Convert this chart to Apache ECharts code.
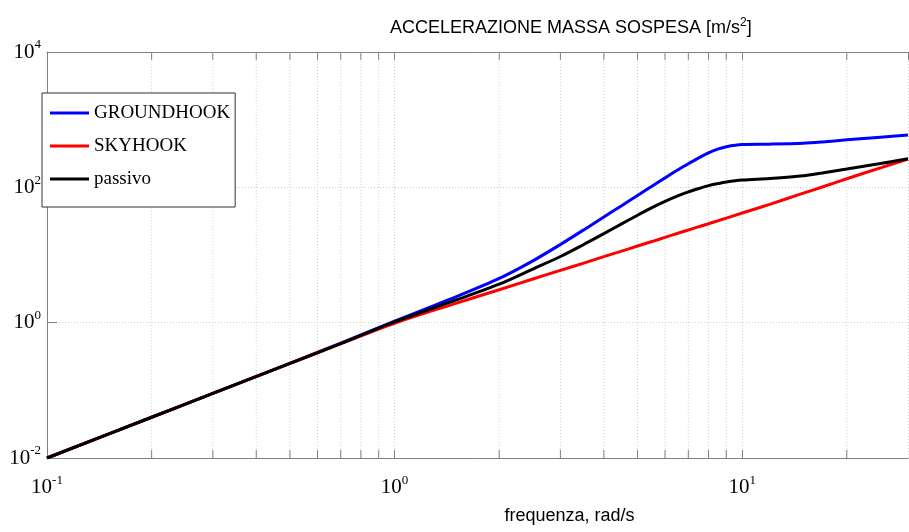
<!DOCTYPE html>
<html>
<head>
<meta charset="utf-8">
<script src="https://cdn.jsdelivr.net/npm/echarts@6/dist/echarts.min.js"></script>
<style>
  html, body { margin: 0; padding: 0; background: #fff; }
  #chart { width: 909px; height: 532px; }
</style>
</head>
<body>
<div id="chart"></div>
<script>
// ---- data ----
const freq = [0.1, 0.2, 0.3, 0.5, 0.7, 1, 1.5, 2, 2.5, 3, 3.5, 4, 4.5, 5, 5.5, 6, 6.5, 7, 7.5, 8, 8.5, 9, 10, 12, 15, 17, 20, 25, 30];
const groundhook = [0.01, 0.04, 0.09, 0.25, 0.5, 1.05, 2.4, 4.5, 8.2, 14.3, 23.5, 36.4, 53.6, 76, 104, 138, 179, 223, 273, 323, 366, 399, 430, 435, 448, 468, 503, 550, 592];
const skyhook = [0.01, 0.04, 0.09, 0.25, 0.49, 0.98, 1.93, 3.07, 4.42, 5.93, 7.6, 9.45, 11.4, 13.6, 15.8, 18.2, 20.8, 23.4, 26.2, 29, 32, 35.1, 41.7, 56, 82, 101, 134, 194, 262];
const passivo = [0.01, 0.04, 0.09, 0.25, 0.49, 1.03, 2.15, 3.7, 6.2, 9.5, 14.3, 20.7, 28.8, 38.7, 50, 62, 74, 85.5, 96, 106, 113.5, 120, 128, 135, 148, 163, 186, 225, 265];
const seriesNames = ['GROUNDHOOK', 'SKYHOOK', 'passivo'];
const xMinorTicks = [0.2, 0.3, 0.4, 0.5, 0.6, 0.7, 0.8, 0.9, 2, 3, 4, 5, 6, 7, 8, 9, 20];
const xMin = 0.1, xMax = 30, yMin = 0.01, yMax = 10000;
const titleText = 'ACCELERAZIONE MASSA SOSPESA [m/s{s|2}]';
const xName = 'frequenza, rad/s';

const pair = (ys) => freq.map((f, i) => [f, ys[i]]);
const expLabel = (v) => {
  const e = Math.log10(v);
  const r = Math.round(e);
  if (Math.abs(e - r) > 1e-6) return '';
  return '{b|10}{e|' + r + '}';
};
const sans = "'Liberation Sans', Arial, sans-serif";
const serif = "'Liberation Serif', 'Times New Roman', serif";
const tickRich = {
  b: { fontFamily: serif, fontSize: 21, color: '#000' },
  e: { fontFamily: serif, fontSize: 13, color: '#000', padding: [0, 0, 14, 0] }
};
const gray = '#808080';

const chart = echarts.init(document.getElementById('chart'), null, { renderer: 'canvas' });
chart.setOption({
  animation: false,
  backgroundColor: '#fff',
  title: {
    text: titleText,
    left: 385, top: 12,
    textStyle: {
      fontFamily: sans, fontSize: 18, fontWeight: 'normal', color: '#000',
      rich: { s: { fontFamily: sans, fontSize: 12, color: '#000', padding: [0, 0, 11, 0] } }
    }
  },
  legend: {
    data: seriesNames,
    orient: 'vertical',
    left: 42, top: 93,
    icon: 'rect', itemWidth: 39, itemHeight: 3, itemGap: 13,
    padding: [10, 5, 18, 8],
    borderColor: '#333', borderWidth: 1, borderRadius: 0,
    backgroundColor: '#fff',
    textStyle: { fontFamily: serif, fontSize: 19, lineHeight: 20, color: '#000' },
    selectedMode: false
  },
  grid: { left: 47, right: 1, top: 52, bottom: 74, containLabel: false },
  xAxis: [{
    type: 'log', logBase: 10, min: xMin, max: xMax,
    name: xName, nameLocation: 'middle', nameGap: 49,
    nameTextStyle: { fontFamily: sans, fontSize: 18, color: '#000', padding: [0, 0, 0, 184] },
    axisLine: { lineStyle: { color: gray, width: 1 } },
    axisTick: { inside: true, length: 8, lineStyle: { color: gray } },
    axisLabel: { formatter: expLabel, margin: 16, rich: tickRich, showMaxLabel: false },
    splitLine: { show: true, lineStyle: { color: '#cfcfcf', type: [1, 2], width: 1 } },
    minorTick: { show: false }
  }, {
    type: 'log', logBase: 10, min: xMin, max: xMax, position: 'top',
    axisLine: { show: true, lineStyle: { color: gray, width: 1 } },
    axisTick: { inside: true, length: 8, lineStyle: { color: gray } },
    axisLabel: { show: false },
    splitLine: { show: false }
  }],
  yAxis: {
    type: 'log', logBase: 10, min: yMin, max: yMax, interval: 2,
    axisLine: { show: true, lineStyle: { color: gray, width: 1 } },
    axisTick: { show: true, inside: true, length: 10, lineStyle: { color: gray } },
    axisLabel: { formatter: expLabel, margin: 6, rich: tickRich },
    splitLine: { show: true, lineStyle: { color: '#cfcfcf', type: [1, 2], width: 1 } }
  },
  series: [
    {
      type: 'custom', name: 'xminor', silent: true, xAxisIndex: 0, yAxisIndex: 0,
      data: xMinorTicks.map(v => [v, yMin]),
      encode: { x: 0, y: 1 },
      renderItem: function (params, api) {
        const x = api.value(0);
        const b = api.coord([x, yMin]);
        const t = api.coord([x, yMax]);
        return {
          type: 'group',
          children: [
            { type: 'line', shape: { x1: b[0], y1: b[1], x2: t[0], y2: t[1] }, style: { stroke: '#cfcfcf', lineWidth: 1, lineDash: [1, 2] } },
            { type: 'line', shape: { x1: b[0], y1: b[1], x2: b[0], y2: b[1] - 8 }, style: { stroke: gray, lineWidth: 1 } },
            { type: 'line', shape: { x1: t[0], y1: t[1], x2: t[0], y2: t[1] + 8 }, style: { stroke: gray, lineWidth: 1 } }
          ]
        };
      },
      z: 1
    },
    { name: seriesNames[0], type: 'line', data: pair(groundhook), showSymbol: false, symbol: 'none', smooth: 0.3,
      lineStyle: { color: '#0000ff', width: 3 }, itemStyle: { color: '#0000ff' }, z: 3 },
    { name: seriesNames[1], type: 'line', data: pair(skyhook), showSymbol: false, symbol: 'none', smooth: 0.3,
      lineStyle: { color: '#ff0000', width: 3 }, itemStyle: { color: '#ff0000' }, z: 3 },
    { name: seriesNames[2], type: 'line', data: pair(passivo), showSymbol: false, symbol: 'none', smooth: 0.3,
      lineStyle: { color: '#000000', width: 3 }, itemStyle: { color: '#000000' }, z: 3 }
  ]
});
</script>
</body>
</html>
